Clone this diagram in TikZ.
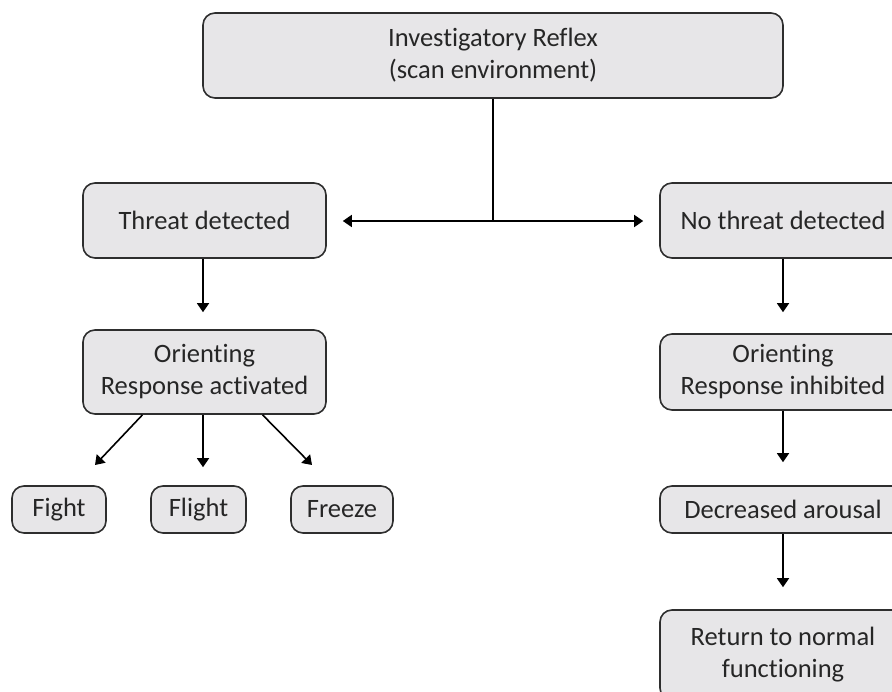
\documentclass[tikz,border=0pt]{standalone}
\usepackage{fontspec}
\setmainfont{Carlito}[RawFeature=-liga]
\usetikzlibrary{arrows.meta,calc}
\definecolor{boxfill}{HTML}{E7E6E8}
\definecolor{boxline}{HTML}{2E2E2E}
\definecolor{txt}{HTML}{262626}
\begin{document}
\begin{tikzpicture}[x=1pt,y=-1pt,
  box/.style={draw=boxline, line width=1.6pt, fill=boxfill, rounded corners=12pt,
    align=center, inner sep=0pt, text=txt,
    font=\fontsize{26.5}{32}\selectfont},
  arr/.style={draw=black, line width=1.6pt, -{Triangle[width=12pt,length=9pt]}},
  link/.style={draw=black, line width=1.6pt}]
\useasboundingbox (0,0) rectangle (892,692);
\clip (0,0) rectangle (892,692);

% boxes
\node[box, minimum width=580pt, minimum height=85pt] (top) at (493,55.5)
  {Investigatory Reflex\\(scan environment)};
\node[box, minimum width=243pt, minimum height=75pt] (td) at (204.5,220.5)
  {Threat detected};
\node[box, minimum width=246pt, minimum height=75pt] (ntd) at (783,220.5)
  {No threat detected};
\node[box, minimum width=243pt, minimum height=84pt] (orA) at (204.5,372)
  {Orienting\\Response activated};
\node[box, minimum width=246pt, minimum height=76pt] (orI) at (783,372)
  {Orienting\\Response inhibited};
\node[box, minimum width=94pt, minimum height=47pt] (fight) at (59,509.5) {Fight};
\node[box, minimum width=95pt, minimum height=47pt] (flight) at (198.5,509.5) {Flight};
\node[box, minimum width=102pt, minimum height=47pt] (freeze) at (342,509.5) {Freeze};
\node[box, minimum width=246pt, minimum height=47pt] (dec) at (783,509.5)
  {Decreased arousal};
\node[box, minimum width=246pt, minimum height=90pt] (ret) at (783,655)
  {Return to normal\\functioning};

% split below the top box
\coordinate (j) at (493,221);
\draw[link] (top.south) -- (j);
\draw[arr, shorten >=16pt] (j) -- (td.east |- j);
\draw[arr, shorten >=16pt] (j) -- (ntd.west |- j);

% threat branch
\draw[arr, shorten >=17pt] ([xshift=-1.5pt]td.south) -- ([xshift=-1.5pt]orA.north);
\coordinate (fa) at (95,465);
\coordinate (fz) at (312,465);
\draw[arr] ([xshift=-62pt]orA.south) -- (fa);
\draw[arr, shorten >=18pt] ([xshift=-1.5pt]orA.south) -- ([xshift=-1.5pt]orA.south |- flight.north);
\draw[arr] ([xshift=58pt]orA.south) -- (fz);

% no-threat branch
\draw[arr, shorten >=21pt] (ntd.south) -- (orI.north);
\draw[arr, shorten >=23pt] (orI.south) -- (dec.north);
\draw[arr, shorten >=22pt] (dec.south) -- (ret.north);
\end{tikzpicture}
\end{document}
